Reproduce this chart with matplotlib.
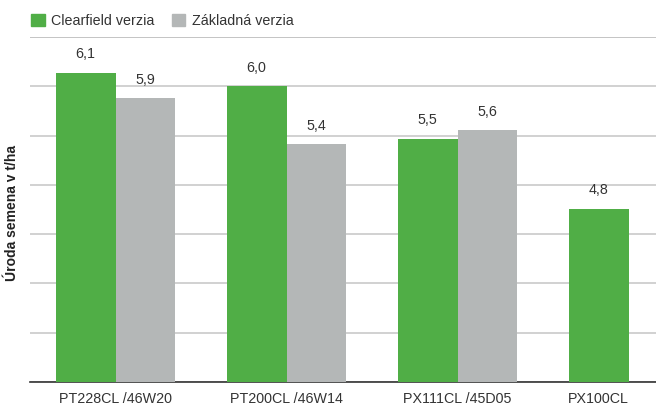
import numpy as np
import matplotlib.pyplot as plt
from matplotlib.patches import Patch

# Data
hybrids = ['PT228CL /46W20', 'PT200CL /46W14', 'PX111CL /45D05', 'PX100CL']
clearfield = [6.14, 6.00, 5.47, 4.76]
zakladna = [5.88, 5.41, 5.56, None]

green = '#50ae46'
grey = '#b4b7b7'
text_col = '#333333'

plt.rcParams['font.family'] = ['Liberation Sans', 'DejaVu Sans']

fig = plt.figure(figsize=(6.56, 4.05), dpi=100)
ax = fig.add_axes([0.0457, 0.0568, 0.9543, 0.8518])

x = np.arange(len(hybrids))
w = 0.35
fs = 10.3

tick_pos = []
for i, (c, z) in enumerate(zip(clearfield, zakladna)):
    ax.bar(x[i] - w / 2, c, w, color=green, zorder=3)
    ax.annotate(f'{c:.1f}'.replace('.', ','), (x[i] - w / 2, c), xytext=(0, 8),
                textcoords='offset points', ha='center', va='bottom',
                fontsize=fs, color=text_col)
    if z is not None:
        ax.bar(x[i] + w / 2, z, w, color=grey, zorder=3)
        ax.annotate(f'{z:.1f}'.replace('.', ','), (x[i] + w / 2, z), xytext=(0, 8),
                    textcoords='offset points', ha='center', va='bottom',
                    fontsize=fs, color=text_col)
        tick_pos.append(x[i])
    else:
        tick_pos.append(x[i] - w / 2)

ax.set_xlim(-0.5, 3.16)
ax.set_ylim(3.0, 6.5)
ax.set_yticks(np.arange(3.0, 6.51, 0.5))
ax.set_yticklabels([])
ax.tick_params(axis='y', length=0)
ax.yaxis.grid(True, color='#c9c9c9', linewidth=1.2, zorder=0)
ax.set_xticks(tick_pos)
ax.set_xticklabels(hybrids, fontsize=fs, color=text_col)
ax.tick_params(axis='x', length=0, pad=7)

for s in ['top', 'right', 'left']:
    ax.spines[s].set_visible(False)
ax.spines['bottom'].set_color('#333333')
ax.spines['bottom'].set_linewidth(1.2)
ax.axhline(6.5, color='#a6a6a6', linewidth=1.2, zorder=1)

fig.text(0.019, 0.474, 'Úroda semena v t/ha', rotation=90, ha='center', va='center',
         fontsize=10, fontweight='bold', color='#222222')

handles = [Patch(color=green, label='Clearfield verzia'),
           Patch(color=grey, label='Základná verzia')]
fig.legend(handles=handles, loc='upper left', bbox_to_anchor=(0.028, 0.997), ncol=2,
           frameon=False, fontsize=fs, handlelength=0.95, handleheight=0.95,
           handletextpad=0.45, columnspacing=1.2, labelcolor=text_col)

fig.savefig('out.png', dpi=100)
